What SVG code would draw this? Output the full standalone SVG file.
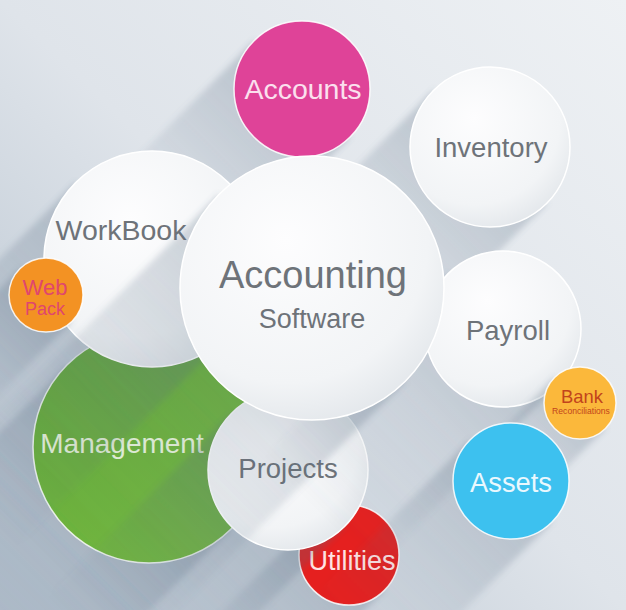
<svg xmlns="http://www.w3.org/2000/svg" width="626" height="610" viewBox="0 0 626 610">
<defs>
<linearGradient id="bg" x1="1" y1="0" x2="0" y2="1">
<stop offset="0" stop-color="#eef1f4"/>
<stop offset="0.5" stop-color="#dfe4ea"/>
<stop offset="1" stop-color="#b2bfcc"/>
</linearGradient>
<linearGradient id="sh" x1="0" y1="0" x2="1" y2="0">
<stop offset="0" stop-color="#54697f" stop-opacity="0.3"/>
<stop offset="0.6" stop-color="#54697f" stop-opacity="0.1"/>
<stop offset="1" stop-color="#54697f" stop-opacity="0"/>
</linearGradient>
<filter id="soft" x="-0.2" y="-0.2" width="1.4" height="1.4">
<feGaussianBlur stdDeviation="3"/>
</filter>
<radialGradient id="white" cx="0.4" cy="0.32" r="0.72">
<stop offset="0" stop-color="#fdfdfe"/>
<stop offset="0.75" stop-color="#f2f4f6"/>
<stop offset="1" stop-color="#e3e7eb"/>
</radialGradient>
<linearGradient id="green" x1="0" y1="0" x2="1" y2="1">
<stop offset="0" stop-color="#64ab37"/>
<stop offset="1" stop-color="#78be41"/>
</linearGradient>
</defs>
<style>
.w{fill:url(#white);stroke:#ffffff;stroke-width:1.5}
.c{stroke:#ffffff;stroke-width:1.5;stroke-opacity:0.85}
.s{fill:url(#sh);filter:url(#soft)}
text{font-family:"Liberation Sans",Arial,sans-serif;text-anchor:middle}
.g{fill:#6e7379}
</style>
<rect width="626" height="610" fill="url(#bg)"/>
<g id="connectors"/>

<g id="accounts">
<rect x="0" y="-68" width="240" height="136" class="s" transform="translate(302 89) rotate(135)"/>
<circle cx="302" cy="89" r="68" fill="#df4398" class="c"/>
<text x="303" y="99" font-size="28.5" fill="#fbe0ee">Accounts</text>
</g>

<g id="inventory">
<rect x="0" y="-80" width="260" height="160" class="s" transform="translate(490 147) rotate(135)"/>
<circle cx="490" cy="147" r="80" class="w"/>
<text x="491" y="157" font-size="27.5" class="g">Inventory</text>
</g>

<g id="management">
<rect x="0" y="-116" width="300" height="232" class="s" transform="translate(149 447) rotate(135)"/>
<circle cx="149" cy="447" r="116" fill="url(#green)" class="c"/>
<text x="122" y="453" font-size="28" fill="#eaf6dc">Management</text>
</g>

<g id="workbook">
<rect x="0" y="-108" width="300" height="216" class="s" transform="translate(152 259) rotate(135)"/>
<circle cx="152" cy="259" r="108" class="w"/>
<text x="121" y="240" font-size="28.5" class="g">WorkBook</text>
</g>

<g id="webpack">
<rect x="0" y="-37" width="150" height="74" class="s" transform="translate(46 295) rotate(135)"/>
<circle cx="46" cy="295" r="37" fill="#f39223" class="c"/>
<text x="45" y="295" font-size="22" fill="#e0466e">Web</text>
<text x="45" y="315" font-size="18" fill="#e0466e">Pack</text>
</g>

<g id="utilities">
<rect x="0" y="-50" width="200" height="100" class="s" transform="translate(349 555) rotate(135)"/>
<circle cx="349" cy="555" r="50" fill="#e5201f" class="c"/>
<text x="352" y="570" font-size="27" fill="#ffe3e3">Utilities</text>
</g>

<g id="projects">
<rect x="0" y="-80" width="260" height="160" class="s" transform="translate(288 470) rotate(135)"/>
<circle cx="288" cy="470" r="80" class="w"/>
<text x="288" y="478" font-size="27.5" class="g">Projects</text>
</g>

<g id="payroll">
<rect x="0" y="-78" width="260" height="156" class="s" transform="translate(503 329) rotate(135)"/>
<circle cx="503" cy="329" r="78" class="w"/>
<text x="508" y="340" font-size="27.5" class="g">Payroll</text>
</g>

<g id="accounting-software">
<rect x="0" y="-132" width="380" height="264" class="s" transform="translate(312 288) rotate(135)"/>
<circle cx="312" cy="288" r="132" class="w"/>
<text x="313" y="288" font-size="38" class="g">Accounting</text>
<text x="312" y="328" font-size="27" class="g">Software</text>
</g>

<g id="bank-reconciliations">
<rect x="0" y="-36" width="150" height="72" class="s" transform="translate(580 403) rotate(135)"/>
<circle cx="580" cy="403" r="36" fill="#fbb83b" class="c"/>
<text x="582" y="403" font-size="18.4" fill="#c2441c">Bank</text>
<text x="581" y="414" font-size="8.6" fill="#c2441c">Reconciliations</text>
</g>

<g id="assets">
<rect x="0" y="-58" width="220" height="116" class="s" transform="translate(511 481) rotate(135)"/>
<circle cx="511" cy="481" r="58" fill="#3dc1ef" class="c"/>
<text x="511" y="492" font-size="27.3" fill="#eaf8fe">Assets</text>
</g>
</svg>
